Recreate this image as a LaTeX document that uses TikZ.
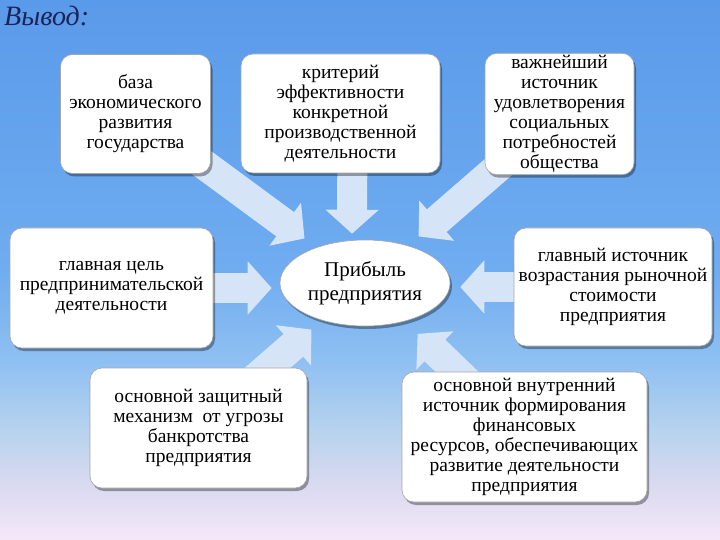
\documentclass[tikz,border=0pt]{standalone}
\usepackage{fontspec}
\setmainfont{Liberation Serif}
\usepackage{tikz}
\usetikzlibrary{positioning, arrows.meta, shapes.geometric, shadows, backgrounds}

% colori
\definecolor{sfA}{HTML}{5A9AEA}
\definecolor{sfB}{HTML}{6FACF0}
\definecolor{sfC}{HTML}{8FC0F2}
\definecolor{sfD}{HTML}{B8D3EE}
\definecolor{sfE}{HTML}{DADAF0}
\definecolor{sfF}{HTML}{F5E8F8}
\definecolor{frecciaC}{HTML}{D6E4F7}
\definecolor{titoloC}{HTML}{1A2458}

\pgfdeclareverticalshading{sfondo}{100bp}{color(0bp)=(sfF); color(25bp)=(sfF); color(30bp)=(sfE); color(35bp)=(sfD); color(41.5bp)=(sfC); color(50bp)=(sfB); color(75bp)=(sfA); color(100bp)=(sfA)}

\tikzset{
  riquadro/.style={draw=black!35, line width=0.6pt, fill=white, rounded corners=12pt,
    align=center, inner sep=2pt, font=\fontsize{19.5}{20}\selectfont,
    drop shadow={shadow xshift=2pt, shadow yshift=-3pt, fill=black, opacity=0.35}},
  centro/.style={ellipse, draw=black!35, line width=0.6pt, fill=white, align=center,
    inner sep=0pt, font=\fontsize{21}{24}\selectfont,
    drop shadow={shadow xshift=2pt, shadow yshift=-3pt, fill=black, opacity=0.35}},
  freccia/.style={line width=30pt, draw=frecciaC, -{Triangle[width=52pt,length=24pt]}},
}

\begin{document}
\begin{tikzpicture}[x=1pt, y=-1pt]

    \useasboundingbox (0,0) rectangle (720,540);

    % titolo
    \node[anchor=north west, inner sep=0pt, text=titoloC,
      font=\itshape\fontsize{28}{30}\selectfont] (titolo) at (4,6) {Вывод:};

    % nodo centrale
    \node[centro, minimum width=170pt, minimum height=86pt] (ell) at (365,283) {Прибыль\\предприятия};

    % riquadri
    \node[riquadro, minimum width=150pt, minimum height=119pt] (b1) at (135.5,114)
      {база\\экономического\\развития\\государства};
    \node[riquadro, minimum width=199pt, minimum height=119pt] (b2) at (340.5,113.5)
      {критерий\\эффективности\\конкретной\\производственной\\деятельности};
    \node[riquadro, minimum width=149pt, minimum height=118pt] (b3) at (559.5,114)
      {важнейший\\источник\\удовлетворения\\социальных\\потребностей\\общества};
    \node[riquadro, minimum width=203pt, minimum height=120pt] (b4) at (111.5,288)
      {главная цель\\предпринимательской\\деятельности};
    \node[riquadro, minimum width=198pt, minimum height=118pt] (b5) at (613,287)
      {главный источник\\возрастания рыночной\\стоимости\\предприятия};
    \node[riquadro, minimum width=217pt, minimum height=120pt] (b6) at (198.5,428)
      {основной защитный\\механизм\ \ от угрозы\\банкротства\\предприятия};
    \node[riquadro, minimum width=245pt, minimum height=130pt] (b7) at (524.5,437)
      {основной внутренний\\источник формирования\\финансовых\\ресурсов, обеспечивающих\\развитие деятельности\\предприятия};

    \begin{pgfonlayer}{background}
    % sfondo
    \shade[shading=sfondo] (0,0) rectangle (720,540);

    % frecce
    \draw[freccia, shorten >=15pt] (b1.center) -- (ell);
    \draw[freccia, shorten >=6pt] ([xshift=12pt]b2.center) -- ([xshift=-13pt]ell.north);
    \draw[freccia, shorten >=14pt] (b3.center) -- (ell);
    \draw[freccia, shorten >=8pt] (b4.center) -- (b4.center -| ell.west);
    \draw[freccia, shorten >=10pt] (b5.center) -- (b5.center -| ell.east);
    \draw[freccia, shorten >=14pt] (b6.center) -- (ell);
    \draw[freccia, shorten >=18pt] (b7.center) -- (ell);
    \end{pgfonlayer}

\end{tikzpicture}
\end{document}
